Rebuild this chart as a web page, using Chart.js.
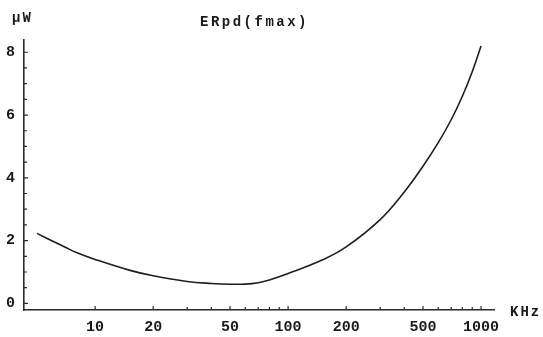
<!DOCTYPE html>
<html>
<head>
<meta charset="utf-8">
<script src="https://cdn.jsdelivr.net/npm/chart.js@4.4.1/dist/chart.umd.min.js"></script>
<style>
  html, body { margin: 0; padding: 0; background: #fff; }
  #c { display: block; }
</style>
</head>
<body>
<canvas id="c" width="543" height="337" style="width:543px;height:337px"></canvas>
<script>
const freqs = [5, 6, 7, 8, 10, 15, 20, 30, 40, 50, 60, 70, 80, 100, 150, 200, 300, 400, 500, 600, 700, 800, 900, 1000];
const power = [2.23, 1.99, 1.79, 1.62, 1.40, 1.06, 0.88, 0.70, 0.635, 0.61, 0.615, 0.66, 0.745, 0.95, 1.38, 1.80, 2.67, 3.55, 4.37, 5.12, 5.85, 6.60, 7.38, 8.20];
const xTickLabels = [10, 20, 50, 100, 200, 500, 1000];
const xMinorTicks = [30, 40, 60, 70, 80, 90, 300, 400, 600, 700, 800, 900];
const yTickLabels = [0, 2, 4, 6, 8];
const yMinorTicks = [0.5, 1, 1.5, 2.5, 3, 3.5, 4.5, 5, 5.5, 6.5, 7, 7.5, 8];
const chartTitle = 'ERpd(fmax)';
const yUnit = 'µW';
const xUnit = 'KHz';

const AXIS = '#2a2a2a';
const MONO = '"Liberation Mono", "DejaVu Sans Mono", monospace';

const decor = {
  id: 'decor',
  afterDraw(chart) {
    const ctx = chart.ctx;
    const xs = chart.scales.x, ys = chart.scales.y;
    const area = chart.chartArea;
    ctx.save();
    ctx.strokeStyle = AXIS;
    ctx.lineWidth = 1.2;
    ctx.beginPath();
    xTickLabels.forEach(v => { const p = xs.getPixelForValue(v); ctx.moveTo(p, area.bottom); ctx.lineTo(p, area.bottom - 4); });
    xMinorTicks.forEach(v => { const p = xs.getPixelForValue(v); ctx.moveTo(p, area.bottom); ctx.lineTo(p, area.bottom - 3); });
    yTickLabels.forEach(v => { const p = ys.getPixelForValue(v); ctx.moveTo(area.left, p); ctx.lineTo(area.left + 4, p); });
    yMinorTicks.forEach(v => { const p = ys.getPixelForValue(v); ctx.moveTo(area.left, p); ctx.lineTo(area.left + 3, p); });
    ctx.stroke();

    ctx.fillStyle = '#1a1a1a';
    ctx.textBaseline = 'alphabetic';
    ctx.textAlign = 'left';
    ctx.font = 'bold 14px ' + MONO;
    try { ctx.letterSpacing = '2.5px'; } catch (e) {}
    ctx.fillText(chartTitle, 200, 26);
    try { ctx.letterSpacing = '2px'; } catch (e) {}
    ctx.fillText(yUnit, 12, 22);
    ctx.fillText(xUnit, 510, 316);
    try { ctx.letterSpacing = '0px'; } catch (e) {}
    ctx.restore();
  }
};

new Chart(document.getElementById('c'), {
  type: 'line',
  data: {
    datasets: [{
      data: freqs.map((f, i) => ({ x: f, y: power[i] })),
      borderColor: '#1e1e1e',
      borderWidth: 1.6,
      pointRadius: 0,
      fill: false,
      tension: 0.4
    }]
  },
  options: {
    responsive: false,
    animation: false,
    devicePixelRatio: 1,
    layout: { padding: { top: 40, right: 49, left: 0, bottom: 0 } },
    plugins: { legend: { display: false }, tooltip: { enabled: false }, title: { display: false } },
    scales: {
      x: {
        type: 'logarithmic',
        min: 4.28,
        max: 1167,
        afterBuildTicks: s => { s.ticks = xTickLabels.map(v => ({ value: v })); },
        afterFit: s => { s.height = 27; },
        grid: { display: false, drawTicks: false },
        border: { display: true, color: AXIS, width: 1.6 },
        ticks: {
          autoSkip: false, maxRotation: 0, padding: 8,
          color: '#1a1a1a',
          font: { family: MONO, size: 15, weight: 'bold' },
          callback: v => String(v)
        }
      },
      y: {
        type: 'linear',
        min: -0.21,
        max: 8.39,
        afterBuildTicks: s => { s.ticks = yTickLabels.map(v => ({ value: v })); },
        afterFit: s => { s.width = 24; },
        grid: { display: false, drawTicks: false },
        border: { display: true, color: AXIS, width: 1.6 },
        ticks: {
          padding: 9,
          color: '#1a1a1a',
          font: { family: MONO, size: 15, weight: 'bold' },
          callback: v => String(v)
        }
      }
    }
  },
  plugins: [decor]
});
</script>
</body>
</html>
